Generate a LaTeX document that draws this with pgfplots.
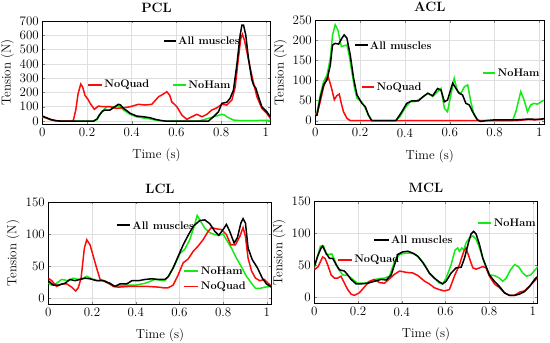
\documentclass[border=0pt]{standalone}
\usepackage{fontspec}
\usepackage{pgfplots}
\pgfplotsset{compat=1.18}
\definecolor{mygreen}{RGB}{20,235,20}
\definecolor{myred}{RGB}{255,10,10}
\pgfplotsset{
  every tick label/.append style={font=\fontsize{13}{15}\selectfont},
  every axis label/.append style={font=\fontsize{13}{15}\selectfont},
  every axis title/.append style={font=\bfseries\fontsize{13.5}{15}\selectfont},
  myax/.style={
    scale only axis, anchor=south west, clip mode=individual,
    xmin=0, xmax=1.022,
    xtick={0,0.2,0.4,0.6,0.8,1},
    /pgf/number format/assume math mode=true,
    xticklabel style={/pgf/number format/fixed},
    grid=major, major grid style={gray!25, line width=0.5pt},
    tick align=inside, major tick length=2.5pt,
    axis line style={line width=0.6pt},
    title style={at={(0.5,1)}, anchor=south, yshift=-1pt},
    xlabel={Time (s)}, ylabel={Tension (N)},
    xlabel style={at={(axis description cs:0.5,-0.3)}, anchor=center},
    every axis plot/.append style={line width=1.5pt, no markers},
  },
}
\tikzset{lab/.style={right, inner sep=1.5pt, font=\bfseries\fontsize{11}{13}\selectfont, text=black},
  key/.style={line width=1.8pt}}
\begin{document}
\begin{tikzpicture}
\path[use as bounding box] (0,0) rectangle (550pt,343pt);
% PCL
\begin{axis}[myax, at={(42.3pt,219.1pt)}, width=228.5pt, height=102.9pt,
  ymin=-20, ymax=700, ytick={0,100,200,300,400,500,600,700}, title={PCL},
  ylabel style={at={(axis description cs:-0.153,0.5)}, anchor=center}]
\addplot[mygreen] coordinates {(0,30)(0.02,20)(0.04,8)(0.06,2)(0.08,0)(0.23,0)(0.245,10)(0.266,65)(0.288,100)(0.318,100)(0.34,107)(0.35,100)(0.363,77)(0.393,47)(0.42,30)(0.45,22)(0.48,15)(0.51,5)(0.55,0)(0.7,0)(0.728,12)(0.766,30)(0.803,47)(0.815,42)(0.825,30)(0.855,7)(0.893,2)(1.02,5)};
\addplot[myred] coordinates {(0,30)(0.02,20)(0.04,8)(0.06,2)(0.08,0)(0.13,0)(0.139,5)(0.15,80)(0.16,190)(0.172,259)(0.18,240)(0.191,180)(0.205,150)(0.214,124)(0.233,82)(0.251,105)(0.273,100)(0.303,100)(0.333,89)(0.363,93)(0.393,100)(0.43,117)(0.46,112)(0.49,117)(0.52,170)(0.534,182)(0.557,205)(0.57,180)(0.579,135)(0.602,100)(0.624,42)(0.646,12)(0.669,30)(0.691,47)(0.714,30)(0.736,47)(0.758,77)(0.781,93)(0.803,117)(0.825,112)(0.848,147)(0.863,240)(0.877,439)(0.888,579)(0.895,607)(0.905,560)(0.915,485)(0.93,370)(0.945,264)(0.96,170)(0.982,89)(1.004,54)(1.02,19)};
\addplot[black] coordinates {(0,35)(0.02,22)(0.04,10)(0.06,3)(0.08,0)(0.23,0)(0.245,15)(0.255,42)(0.27,70)(0.281,77)(0.303,77)(0.325,100)(0.34,117)(0.35,112)(0.363,89)(0.38,70)(0.393,54)(0.422,35)(0.452,30)(0.482,23)(0.505,12)(0.53,4)(0.55,0)(0.743,0)(0.766,30)(0.788,65)(0.803,124)(0.825,131)(0.84,159)(0.855,217)(0.87,392)(0.885,602)(0.893,672)(0.9,672)(0.91,602)(0.922,439)(0.937,290)(0.945,252)(0.955,230)(0.967,170)(0.982,100)(1.004,65)(1.02,30)};
\draw[myred, key] (axis cs:0.205,252) -- (axis cs:0.267,252) node[lab] {NoQuad};
\draw[mygreen, key] (axis cs:0.585,252) -- (axis cs:0.643,252) node[lab] {NoHam};
\draw[black, key] (axis cs:0.545,560) -- (axis cs:0.597,560) node[lab] {All muscles};
\end{axis}
% ACL
\begin{axis}[myax, at={(315.3pt,218.3pt)}, width=229pt, height=104.7pt,
  ymin=-10, ymax=250, ytick={0,50,100,150,200,250}, title={ACL},
  ylabel style={at={(axis description cs:-0.153,0.5)}, anchor=center}]
\addplot[mygreen] coordinates {(0,14)(0.008,22)(0.022,64)(0.037,97)(0.052,113)(0.067,155)(0.077,213)(0.089,238)(0.101,225)(0.116,184)(0.129,186)(0.141,188)(0.151,163)(0.163,122)(0.175,80)(0.186,56)(0.208,46)(0.223,31)(0.237,14)(0.252,0)(0.356,0)(0.378,10)(0.4,31)(0.423,47)(0.445,47)(0.475,57)(0.502,68)(0.524,60)(0.546,72)(0.561,80)(0.576,31)(0.59,22)(0.605,64)(0.62,105)(0.635,72)(0.65,68)(0.665,84)(0.68,89)(0.694,47)(0.709,14)(0.724,0)(0.88,0)(0.895,22)(0.917,72)(0.932,51)(0.947,22)(0.961,39)(0.976,43)(0.991,41)(1.006,46)(1.018,51)};
\addplot[myred] coordinates {(0,14)(0.008,18)(0.022,47)(0.037,84)(0.05,105)(0.058,108)(0.071,84)(0.085,52)(0.096,62)(0.107,66)(0.116,43)(0.126,22)(0.141,6)(0.156,0)(0.5,0)(0.9,0)(0.95,3)(0.98,2)(1.02,5)};
\addplot[black] coordinates {(0,12)(0.008,14)(0.022,56)(0.037,89)(0.052,101)(0.067,138)(0.077,188)(0.089,192)(0.104,190)(0.119,205)(0.129,213)(0.141,205)(0.156,163)(0.171,105)(0.186,64)(0.208,43)(0.223,35)(0.237,14)(0.252,0)(0.36,0)(0.386,22)(0.408,43)(0.43,49)(0.46,49)(0.482,60)(0.502,68)(0.524,62)(0.546,80)(0.561,76)(0.576,47)(0.59,51)(0.613,93)(0.628,80)(0.642,68)(0.657,64)(0.672,43)(0.687,39)(0.702,22)(0.724,2)(0.739,-2)(0.76,0)(0.8,2)(0.9,2)(0.95,4)(1.0,3)(1.02,5)};
\draw[myred, key] (axis cs:0.209,83) -- (axis cs:0.263,83) node[lab] {NoQuad};
\draw[mygreen, key] (axis cs:0.748,119) -- (axis cs:0.803,119) node[lab] {NoHam};
\draw[black, key] (axis cs:0.177,187) -- (axis cs:0.233,187) node[lab] {All muscles};
\end{axis}
% LCL
\begin{axis}[myax, at={(48.3pt,38.6pt)}, width=223.4pt, height=102.4pt,
  ymin=-10, ymax=150, ytick={0,50,100,150}, title={LCL},
  ylabel style={at={(axis description cs:-0.157,0.5)}, anchor=center}]
\addplot[mygreen] coordinates {(0,23)(0.016,20)(0.038,23)(0.061,29)(0.092,27)(0.114,31)(0.137,29)(0.16,31)(0.176,34)(0.198,30)(0.229,27)(0.259,27)(0.29,20)(0.313,18)(0.351,20)(0.397,20)(0.443,23)(0.488,29)(0.533,27)(0.556,37)(0.579,52)(0.601,69)(0.624,76)(0.647,91)(0.67,115)(0.681,129)(0.693,122)(0.716,109)(0.739,102)(0.762,99)(0.78,98)(0.8,100)(0.815,91)(0.838,78)(0.861,62)(0.883,49)(0.906,34)(0.93,23)(0.948,15)(0.968,15)(0.991,17)(1.021,18)};
\addplot[myred] coordinates {(0,31)(0.016,27)(0.038,18)(0.061,22)(0.084,22)(0.107,17)(0.125,11)(0.137,16)(0.15,31)(0.165,78)(0.176,91)(0.191,83)(0.206,65)(0.221,47)(0.237,29)(0.252,27)(0.275,23)(0.298,18)(0.321,17)(0.366,18)(0.412,18)(0.458,18)(0.504,17)(0.525,16)(0.548,16)(0.571,20)(0.594,36)(0.617,55)(0.64,61)(0.663,73)(0.685,81)(0.708,91)(0.731,104)(0.746,110)(0.769,108)(0.792,107)(0.815,99)(0.835,83)(0.856,83)(0.876,96)(0.891,110)(0.902,96)(0.914,62)(0.93,42)(0.948,31)(0.968,27)(0.988,29)(1.006,23)(1.022,18)};
\addplot[black] coordinates {(0,27)(0.023,20)(0.046,20)(0.076,23)(0.099,29)(0.122,27)(0.145,29)(0.168,31)(0.191,30)(0.221,27)(0.252,27)(0.282,23)(0.305,18)(0.328,22)(0.359,22)(0.382,27)(0.412,27)(0.443,29)(0.473,30)(0.504,29)(0.533,29)(0.548,33)(0.571,47)(0.594,65)(0.617,83)(0.64,98)(0.663,112)(0.693,121)(0.716,122)(0.739,116)(0.762,104)(0.78,98)(0.8,107)(0.815,115)(0.83,104)(0.85,86)(0.865,94)(0.881,117)(0.891,124)(0.902,117)(0.914,78)(0.933,60)(0.957,47)(0.979,31)(0.998,22)(1.021,17)};
\draw[mygreen, key] (axis cs:0.623,42) -- (axis cs:0.687,42) node[lab] {NoHam};
\draw[myred, key] (axis cs:0.623,18) -- (axis cs:0.687,18) node[lab] {NoQuad};
\draw[black, key] (axis cs:0.313,113.6) -- (axis cs:0.374,113.6) node[lab] {All muscles};
\end{axis}
% MCL
\begin{axis}[myax, at={(314.3pt,39.3pt)}, width=223.4pt, height=102.4pt,
  ymin=-10, ymax=150, ytick={0,50,100,150}, title={MCL},
  ylabel style={at={(axis description cs:-0.157,0.5)}, anchor=center}]
\addplot[mygreen] coordinates {(0,46)(0.015,64)(0.028,80)(0.043,80)(0.054,67)(0.069,67)(0.08,68)(0.092,59)(0.107,46)(0.13,35)(0.153,34)(0.176,28)(0.199,22)(0.23,22)(0.26,25)(0.291,29)(0.321,30)(0.344,33)(0.367,56)(0.39,67)(0.413,69)(0.436,69)(0.459,68)(0.482,61)(0.505,51)(0.526,38)(0.549,30)(0.572,22)(0.587,21)(0.603,30)(0.626,51)(0.644,74)(0.656,77)(0.664,72)(0.675,77)(0.684,74)(0.694,85)(0.71,93)(0.725,96)(0.74,91)(0.756,77)(0.771,61)(0.786,46)(0.801,35)(0.824,34)(0.847,30)(0.862,25)(0.878,30)(0.898,43)(0.916,51)(0.934,48)(0.954,38)(0.97,33)(0.99,35)(1.008,42)(1.023,48)};
\addplot[myred] coordinates {(0,43)(0.018,48)(0.038,63)(0.049,61)(0.061,51)(0.077,35)(0.092,30)(0.107,30)(0.122,33)(0.138,22)(0.153,12)(0.168,5)(0.183,3)(0.206,7)(0.229,16)(0.252,25)(0.275,28)(0.298,23)(0.321,22)(0.344,29)(0.367,36)(0.39,41)(0.42,39)(0.451,38)(0.474,34)(0.505,25)(0.526,21)(0.549,15)(0.572,12)(0.595,10)(0.618,12)(0.641,33)(0.664,51)(0.684,72)(0.694,77)(0.71,61)(0.725,46)(0.74,44)(0.756,46)(0.771,48)(0.786,46)(0.801,33)(0.824,21)(0.847,15)(0.87,7)(0.893,3)(0.916,3)(0.939,8)(0.962,10)(0.989,19)(1.023,31)};
\addplot[black] coordinates {(0,48)(0.015,64)(0.031,77)(0.038,80)(0.054,69)(0.069,61)(0.084,61)(0.1,51)(0.115,43)(0.138,41)(0.153,35)(0.168,28)(0.191,21)(0.214,21)(0.245,22)(0.275,25)(0.306,28)(0.329,27)(0.352,35)(0.367,51)(0.382,67)(0.405,71)(0.428,72)(0.451,69)(0.474,64)(0.497,54)(0.512,46)(0.526,38)(0.549,30)(0.572,24)(0.587,21)(0.603,25)(0.626,38)(0.649,46)(0.672,47)(0.687,61)(0.705,85)(0.717,99)(0.729,103)(0.74,99)(0.756,82)(0.771,61)(0.786,48)(0.801,35)(0.824,25)(0.847,17)(0.87,7)(0.893,3)(0.916,3)(0.939,5)(0.962,9)(0.985,17)(1.008,28)(1.023,33)};
\draw[mygreen, key] (axis cs:0.748,116) -- (axis cs:0.81,116) node[lab] {NoHam};
\draw[black, key] (axis cs:0.275,90) -- (axis cs:0.34,90) node[lab] {All muscles};
\draw[myred, key] (axis cs:0.107,58.8) -- (axis cs:0.172,58.8) node[lab] {NoQuad};
\end{axis}
\end{tikzpicture}
\end{document}
